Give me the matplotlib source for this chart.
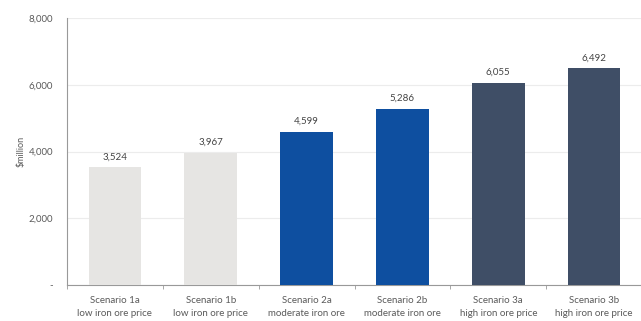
import matplotlib.pyplot as plt
import numpy as np

scenarios = ['Scenario 1a\nlow iron ore price', 'Scenario 1b\nlow iron ore price',
             'Scenario 2a\nmoderate iron ore\nprice', 'Scenario 2b\nmoderate iron ore\nprice',
             'Scenario 3a\nhigh iron ore price', 'Scenario 3b\nhigh iron ore price']
values = [3524, 3967, 4599, 5286, 6055, 6492]
colors = ['#e6e5e3', '#e6e5e3', '#0e4fa0', '#0e4fa0', '#3f4e66', '#3f4e66']

plt.rcParams['font.family'] = ['Lato', 'DejaVu Sans']
txt = '#5a5a5a'

fig = plt.figure(figsize=(6.41, 3.21), dpi=100)
ax = fig.add_axes([67 / 641, 36 / 321, 575 / 641, 267 / 321])

x = np.arange(len(values))
ax.bar(x, values, width=0.55, color=colors, zorder=3)
for xi, v in zip(x, values):
    ax.text(xi, v + 180, f'{v:,}', ha='center', va='bottom', fontsize=7, color='#444444')

ax.set_xlim(-0.5, 5.5)
ax.set_ylim(0, 8000)
ax.set_yticks([0, 2000, 4000, 6000, 8000])
ax.set_yticklabels(['-', '2,000', '4,000', '6,000', '8,000'])
ax.set_xticks(x)
ax.set_xticklabels(scenarios, linespacing=1.55)
ax.set_xticks(np.arange(-0.5, 6, 1), minor=True)
ax.tick_params(axis='x', which='major', length=0, pad=8, labelsize=7, labelcolor=txt)
ax.tick_params(axis='x', which='minor', length=3, color='#999999')
ax.tick_params(axis='y', length=0, pad=10, labelsize=7, labelcolor=txt)
ax.set_ylabel('$million', fontsize=6.5, color=txt)
ax.yaxis.set_label_coords(-41 / 575, 0.5)

ax.grid(axis='y', color='#ececec', linewidth=0.8, zorder=0)
for s in ['top', 'right']:
    ax.spines[s].set_visible(False)
ax.spines['left'].set_color('#999999')
ax.spines['bottom'].set_color('#999999')

fig.savefig('out.png', dpi=100)
